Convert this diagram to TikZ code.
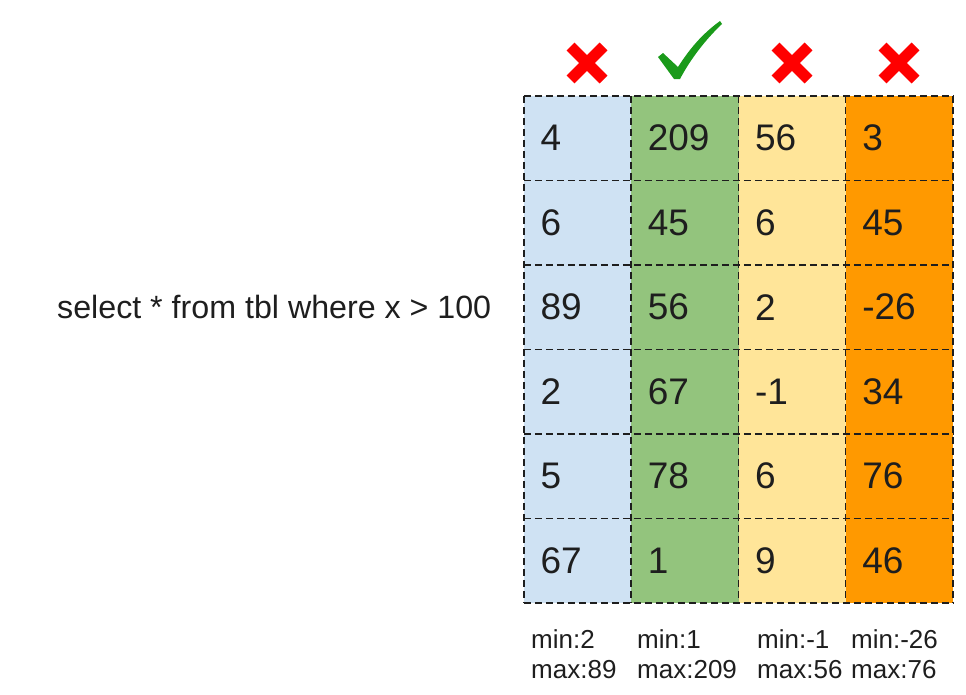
\documentclass[tikz,border=0pt]{standalone}
\usepackage{fontspec}
\setmainfont{Liberation Sans}
\definecolor{cblue}{HTML}{CFE2F3}
\definecolor{cgreen}{HTML}{93C47D}
\definecolor{cyellow}{HTML}{FFE599}
\definecolor{corange}{HTML}{FF9900}
\definecolor{markred}{HTML}{FF0000}
\definecolor{markgreen}{HTML}{1A9A1A}
\definecolor{ink}{HTML}{1E1E1E}
\tikzset{
  cell/.style={rectangle, minimum width=107.25pt, minimum height=84.5pt,
    inner xsep=16.5pt, inner ysep=0pt, text width=74.25pt, align=left,
    font=\fontsize{37}{41}\selectfont, text=ink},
  gridline/.style={draw=ink, line width=1.6pt, dash pattern=on 7pt off 4pt},
  stats/.style={anchor=west, inner sep=0pt, align=left,
    font=\fontsize{26}{30}\selectfont, text=ink},
  cross/.style={draw=markred, line width=11pt, line cap=butt},
}
\begin{document}
\begin{tikzpicture}[x=1pt,y=-1pt]
\useasboundingbox (0,0) rectangle (966,694);
% query
\node[anchor=base west, inner sep=0pt, font=\fontsize{32.2}{36}\selectfont, text=ink]
  (query) at (57,318) {select * from tbl where x > 100};
% cells
\def\cw{107.25}\def\ch{84.5}
\foreach \col/\fillc/\vals [count=\i] in {
  1/cblue/{4,6,89,2,5,67},
  2/cgreen/{209,45,56,67,78,1},
  3/cyellow/{56,6,2,-1,6,9},
  4/corange/{3,45,-26,34,76,46}} {
  \foreach \v [count=\j] in \vals {
    \node[cell, fill=\fillc] (c-\i-\j) at ({524+(\i-0.5)*\cw},{96+(\j-0.5)*\ch}) {\v};
  }
}
% grid lines
\foreach \j in {1,...,6} {
  \draw[gridline] (c-1-\j.north west) -- (c-4-\j.north east);
}
\draw[gridline] (c-1-6.south west) -- (c-4-6.south east);
\foreach \i in {1,...,4} {
  \draw[gridline] (c-\i-1.north west) -- (c-\i-6.south west);
}
\draw[gridline] (c-4-1.north east) -- (c-4-6.south east);
% stats
\node[stats] (s1) at (531,653.7) {min:2\\max:89};
\node[stats] (s2) at (637,653.7) {min:1\\max:209};
\node[stats] (s3) at (757,653.7) {min:-1\\max:56};
\node[stats] (s4) at (851,653.7) {min:-26\\max:76};
% crosses
\foreach \cx/\nm in {587/x1,792/x3,899/x4} {
  \coordinate (\nm) at (\cx,63);
  \draw[cross] ([shift={(-16.5,-16.5)}]\nm) -- ([shift={(16.5,16.5)}]\nm);
  \draw[cross] ([shift={(-16.5,16.5)}]\nm) -- ([shift={(16.5,-16.5)}]\nm);
}
% check mark
\fill[markgreen] (658,57) -- (663,53) -- (678,67)
  .. controls (692,45) and (705,32) .. (720,21) -- (722,24)
  .. controls (705,40) and (690,60) .. (680,79) -- (674,79) -- cycle;
\end{tikzpicture}
\end{document}
